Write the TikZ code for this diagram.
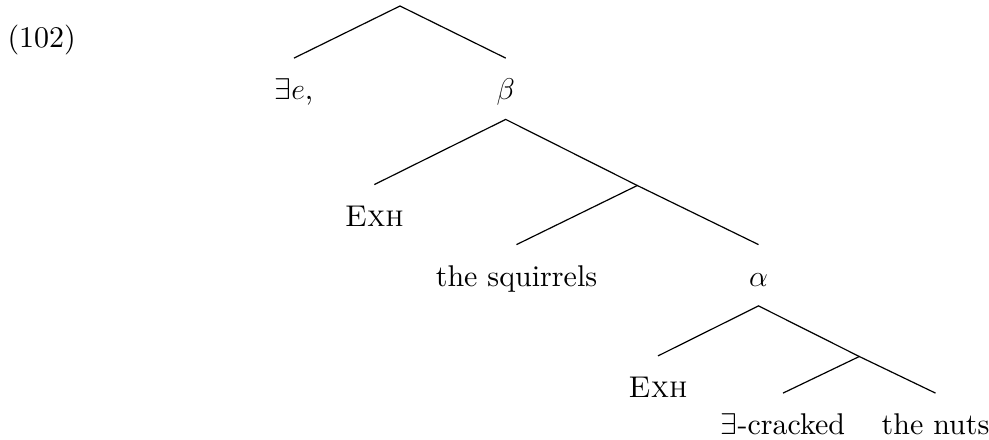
\RequirePackage{fix-cm}
\documentclass[tikz,border=0pt]{standalone}
\usepackage{amsmath,amssymb}
\usepackage{fontspec}
\setmainfont{lmroman10}[Extension=.otf,UprightFont=*-regular,ItalicFont=*-italic,BoldFont=*-bold,SmallCapsFont=lmromancaps10-regular]
\usepackage{tikz}

\tikzset{
  leaf/.style={anchor=base,inner sep=0pt,text height=20.5pt,text depth=9.75pt},
  branch/.style={black,line width=0.6pt}
}

\begin{document}
\begin{tikzpicture}[x=0.5pt,y=-0.5pt,font=\fontsize{15}{18}\selectfont]
  \useasboundingbox (0,0) rectangle (989,439);
  \node[anchor=base,inner sep=0pt] (num) at (41.7,47) {(102)};
  % top: exists e, beta
  \coordinate (root) at (400,6);
  \node[leaf] (exe) at (294,99.5) {$\exists e$,};
  \node[leaf] (beta) at (505.7,99.5) {$\beta$};
  \draw[branch] (exe.north) -- (root) -- (beta.north);
  % beta: Exh, [the squirrels, alpha]
  \node[leaf] (exhA) at (374.3,226) {\textsc{Exh}};
  \coordinate (midA) at (637.3,185.5);
  \node[leaf] (squirrels) at (516.5,286) {the squirrels};
  \node[leaf] (alpha) at (758.5,286) {$\alpha$};
  \draw[branch] (exhA.north) -- (beta.south) -- (midA);
  \draw[branch] (squirrels.north) -- (midA) -- (alpha.north);
  % alpha: Exh, [cracked, the nuts]
  \node[leaf] (exhB) at (658,397.3) {\textsc{Exh}};
  \coordinate (midB) at (859.3,356.5);
  \node[leaf] (cracked) at (783,434.5) {$\exists$-cracked};
  \node[leaf] (nuts) at (935.5,434.5) {the nuts};
  \draw[branch] (exhB.north) -- (alpha.south) -- (midB);
  \draw[branch] (cracked.north) -- (midB) -- (nuts.north);
\end{tikzpicture}
\end{document}
